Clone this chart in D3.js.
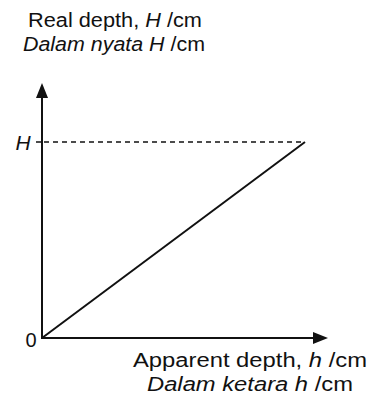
<!DOCTYPE html>
<html>
<head>
<meta charset="utf-8">
<script src="https://cdn.jsdelivr.net/npm/d3@7"></script>
<style>
  html, body { margin: 0; padding: 0; background: #fff; }
  svg { display: block; font-family: "Liberation Sans", Arial, sans-serif; }
</style>
</head>
<body>
<svg id="chart" width="378" height="397"></svg>
<script>
// Relationship between apparent depth h and real depth H (straight line through origin)
const apparentDepth = [0, 1];   // h, in units of H
const realDepth = [0, 1];       // H
const yTickLabels = ["0", "H"];
const yTitle = [["Real depth, ", "H", " /cm"], ["Dalam nyata ", "H", " /cm"]];
const xTitle = [["Apparent depth, ", "h", " /cm"], ["Dalam ketara ", "h", " /cm"]];

const svg = d3.select("#chart");
const x = d3.scaleLinear().domain([0, 1]).range([42, 305]);
const y = d3.scaleLinear().domain([0, 1]).range([338, 142]);

const ink = "#111";

// axes with arrowheads
const xEnd = 328, yEnd = 83;
svg.append("line").attr("x1", x(0)).attr("y1", y(0)).attr("x2", xEnd - 12).attr("y2", y(0))
  .attr("stroke", ink).attr("stroke-width", 2);
svg.append("line").attr("x1", x(0)).attr("y1", y(0) + 1).attr("x2", x(0)).attr("y2", yEnd + 12)
  .attr("stroke", ink).attr("stroke-width", 2);
svg.append("path")
  .attr("d", `M${xEnd},${y(0)} L${xEnd - 15},${y(0) - 6} L${xEnd - 15},${y(0) + 6} Z`)
  .attr("fill", ink);
svg.append("path")
  .attr("d", `M${x(0)},${yEnd} L${x(0) - 6},${yEnd + 15} L${x(0) + 6},${yEnd + 15} Z`)
  .attr("fill", ink);

// tick at H
svg.append("line").attr("x1", x(0) - 6).attr("x2", x(0)).attr("y1", y(1)).attr("y2", y(1))
  .attr("stroke", ink).attr("stroke-width", 1.5);

// dashed guide at H
svg.append("line").attr("x1", x(0) + 2).attr("x2", x(1)).attr("y1", y(1)).attr("y2", y(1))
  .attr("stroke", ink).attr("stroke-width", 1.5).attr("stroke-dasharray", "5,4");

// data line
const line = d3.line().x(d => x(d[0])).y(d => y(d[1]));
svg.append("path")
  .datum(d3.zip(apparentDepth, realDepth))
  .attr("d", line)
  .attr("fill", "none").attr("stroke", ink).attr("stroke-width", 2);

// tick labels
svg.append("text").attr("x", 31).attr("y", y(0) + 9).attr("text-anchor", "middle")
  .attr("font-size", 20).attr("fill", ink).text(yTickLabels[0]);
svg.append("text").attr("x", 23).attr("y", y(1) + 8).attr("text-anchor", "middle")
  .attr("font-size", 21).attr("font-style", "italic").attr("fill", ink).text(yTickLabels[1]);

// axis titles
function title(parts, xPos, yPos, width, italicAll) {
  const t = svg.append("text").attr("x", xPos).attr("y", yPos)
    .attr("font-size", 19.5).attr("fill", ink)
    .attr("textLength", width).attr("lengthAdjust", "spacingAndGlyphs");
  parts.forEach((p, i) => {
    t.append("tspan").text(p)
      .attr("font-style", (italicAll && i < 2) || i === 1 ? "italic" : "normal");
  });
}
title(yTitle[0], 28, 27, 174, false);
title(yTitle[1], 23, 51, 182, true);
title(xTitle[0], 133, 367, 234, false);
title(xTitle[1], 147, 391, 206, true);
</script>
</body>
</html>
